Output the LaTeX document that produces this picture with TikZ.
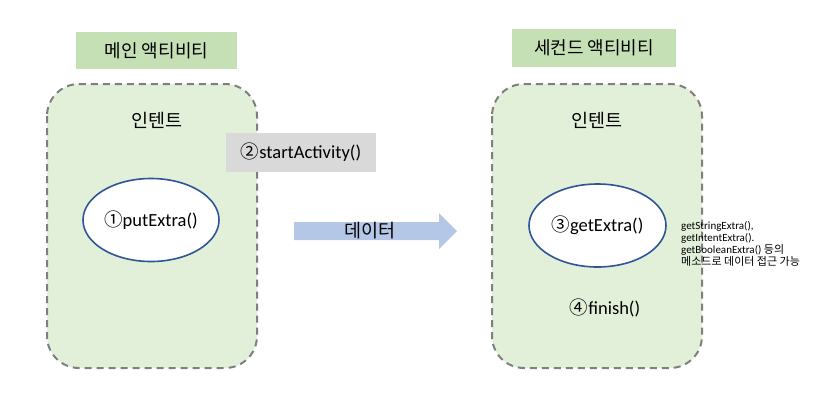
\documentclass[tikz,border=0pt]{standalone}
\usepackage{fontspec}
\setmainfont{Carlito}
\newfontfamily\kr{Noto Sans CJK KR}
\definecolor{hdrgreen}{HTML}{C5E0B4}
\definecolor{boxgreen}{HTML}{E2F0D9}
\definecolor{dashgray}{HTML}{7F7F7F}
\definecolor{lightgray}{HTML}{D9D9D9}
\definecolor{arrowblue}{HTML}{B4C7E7}
\definecolor{ellblue}{HTML}{2F5597}
\tikzset{
  header/.style={fill=hdrgreen, draw=none, inner sep=0pt, font=\kr\fontsize{18}{21}\selectfont},
  actbox/.style={fill=boxgreen, draw=dashgray, line width=2pt, dash pattern=on 7pt off 5pt, rounded corners=32pt},
  label/.style={inner sep=0pt, font=\fontsize{18.5}{21}\selectfont},
  krlabel/.style={inner sep=0pt, font=\kr\fontsize{18.5}{21}\selectfont},
  method/.style={ellipse, draw=ellblue, line width=1.6pt, fill=white, inner sep=0pt, font=\fontsize{18.5}{21}\selectfont},
  smalltext/.style={inner sep=0pt, align=left, anchor=north west, font=\fontsize{11}{12}\selectfont},
}
\usetikzlibrary{shapes.geometric}
\begin{document}
\begin{tikzpicture}[x=1pt,y=-1pt]
\useasboundingbox (0,0) rectangle (825,405);
% headers
\node[header, minimum width=161pt, minimum height=37pt] (h1) at (156.5,50.5) {메인 액티비티};
\node[header, minimum width=164pt, minimum height=38pt] (h2) at (594,48) {세컨드 액티비티};
% activity boxes
\draw[actbox] (47,84) rectangle (257,368);
\draw[actbox] (492,84) rectangle (702,368);
\node[krlabel] (i1) at (157,120) {인텐트};
\node[krlabel] (i2) at (597,120) {인텐트};
% startActivity
\node[fill=lightgray, minimum width=150pt, minimum height=39pt, inner sep=0pt, font=\fontsize{18.5}{21}\selectfont] (sa) at (301,152.5) {{\kr ②}startActivity()};
% ellipses
\node[method, minimum width=136pt, minimum height=83pt] (e1) at (151,220) {{\kr ①}putExtra()};
\node[method, minimum width=137pt, minimum height=83pt] (e2) at (597.5,225.5) {{\kr ③}getExtra()};
\node[label] (fin) at (605,308) {{\kr ④}finish()};
% data arrow
\fill[arrowblue] (294,222) -- (439,222) -- (439,213) -- (457,231) -- (439,249) -- (439,240) -- (294,240) -- cycle;
\node[krlabel] (data) at (370,230.5) {데이터};
% small note
\node[smalltext] (note) at (681,221) {getStringExtra(),\\getIntentExtra().\\getBooleanExtra() {\kr 등의}\\{\kr 메소드로 데이터 접근 가능}};
\end{tikzpicture}
\end{document}
